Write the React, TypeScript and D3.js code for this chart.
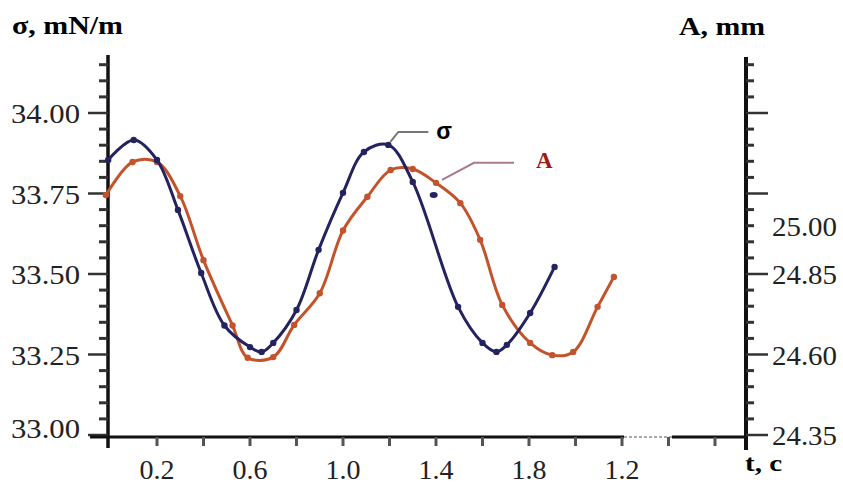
import React from "react";
import * as d3 from "d3";

// surface tension sigma, mN/m (left axis)
const sigmaTime = [-0.01, 0.1, 0.2, 0.29, 0.39, 0.49, 0.6, 0.65, 0.7, 0.8, 0.895, 1.0, 1.09, 1.195, 1.3, 1.495, 1.6, 1.66, 1.705, 1.805, 1.91];
const sigmaValues = [33.854, 33.916, 33.854, 33.699, 33.503, 33.34, 33.273, 33.258, 33.286, 33.388, 33.575, 33.752, 33.879, 33.901, 33.786, 33.398, 33.286, 33.258, 33.28, 33.379, 33.522];
// one stray sigma marker off the line
const sigmaStrayTime = [1.39];
const sigmaStrayValues = [33.745];

// amplitude A, mm (right axis)
const ampTime = [-0.02, 0.095, 0.2, 0.3, 0.4, 0.525, 0.59, 0.7, 0.79, 0.9, 1.0, 1.105, 1.205, 1.3, 1.4, 1.505, 1.59, 1.685, 1.805, 1.9, 1.99, 2.095, 2.165];
const ampValues = [25.095, 25.198, 25.198, 25.092, 24.893, 24.69, 24.59, 24.592, 24.692, 24.79, 24.985, 25.09, 25.173, 25.176, 25.133, 25.07, 24.956, 24.754, 24.636, 24.598, 24.608, 24.748, 24.841];

// tick labels
const leftTickValues = [33.0, 33.25, 33.5, 33.75, 34.0];
const rightTickValues = [24.35, 24.6, 24.85, 25.0];
const xLabelValues = [0.2, 0.6, 1.0, 1.4, 1.8, 2.2];
const xLabelTexts = ["0.2", "0.6", "1.0", "1.4", "1.8", "1.2"];

const W = 843;
const H = 486;
const BLUE = "#23235f";
const ORANGE = "#c4532b";

export default function App() {
  const x = d3.scaleLinear().domain([0, 2.2]).range([110.5, 622]);
  const y = d3.scaleLinear().domain([33, 34]).range([435, 113]);
  const yA = d3.scaleLinear().domain([24.35, 25.35]).range([435, 113]);

  const leftX = 108;
  const rightX = 746;
  const axisY = 437;

  const sigmaPts = sigmaTime.map((t, i) => [x(t), y(sigmaValues[i])] as [number, number]);
  const ampPts = ampTime.map((t, i) => [x(t), yA(ampValues[i])] as [number, number]);
  const line = d3.line().curve(d3.curveCatmullRom.alpha(0.5));

  const leftMinor = d3.range(0, 24).map((i) => ({ v: 33 + i * 0.05, major: i % 5 === 0 }));
  const rightMinor = d3.range(0, 24).map((i) => ({ v: 24.35 + i * 0.05, major: i % 5 === 0 }));
  const xTicks = d3.range(1, 14).map((i) => i * 0.2);

  // annotation anchors
  const sPeak = sigmaPts[13];
  const aAnchor = ampPts[14];

  const serif = "'Liberation Serif', 'Times New Roman', serif";
  const sans = "'Liberation Sans', Arial, sans-serif";

  return (
    <div style={{ position: "absolute", left: 0, top: 0 }}>
      <svg width={W} height={H} style={{ display: "block", background: "#fff" }}>
        {/* titles */}
        <text x={12} y={34} fontFamily={serif} fontWeight="bold" fontSize={25} textLength={111} lengthAdjust="spacingAndGlyphs">
          σ, mN/m
        </text>
        <text x={679} y={35} fontFamily={serif} fontWeight="bold" fontSize={25} textLength={86} lengthAdjust="spacingAndGlyphs">
          A, mm
        </text>
        <text x={745} y={471} fontFamily={serif} fontWeight="bold" fontSize={24} textLength={37} lengthAdjust="spacingAndGlyphs">
          t, c
        </text>

        {/* left axis */}
        <line x1={leftX} x2={leftX} y1={55} y2={448} stroke="#111" strokeWidth={3.5} />
        {leftMinor.map((d, i) => (
          <line key={"lt" + i} x1={d.major ? leftX - 20 : leftX - 9} x2={leftX} y1={y(d.v)} y2={y(d.v)} stroke="#333" strokeWidth={d.major ? 2.5 : 3} />
        ))}
        {leftTickValues.map((v) => (
          <text key={"ll" + v} x={80} y={y(v) + (v === 33 ? 3 : 10)} textAnchor="end" fontFamily={serif} fontSize={27} fill="#222" textLength={69} lengthAdjust="spacingAndGlyphs">
            {v.toFixed(2)}
          </text>
        ))}

        {/* right axis */}
        <line x1={rightX} x2={rightX} y1={57} y2={450} stroke="#111" strokeWidth={4} />
        {rightMinor.map((d, i) => (
          <line key={"rt" + i} x1={rightX} x2={d.major ? rightX + 22 : rightX + 8} y1={yA(d.v)} y2={yA(d.v)} stroke="#333" strokeWidth={d.major ? 2.5 : 3} />
        ))}
        {rightTickValues.map((v) => (
          <text key={"rl" + v} x={772} y={yA(v) + 10} fontFamily={serif} fontSize={27} fill="#222" textLength={65} lengthAdjust="spacingAndGlyphs">
            {v.toFixed(2)}
          </text>
        ))}

        {/* x axis */}
        <line x1={90} x2={624} y1={axisY} y2={axisY} stroke="#111" strokeWidth={3} />
        <line x1={624} x2={672} y1={axisY} y2={axisY} stroke="#aaa" strokeWidth={2} strokeDasharray="3 2" />
        <line x1={672} x2={rightX} y1={axisY} y2={axisY} stroke="#111" strokeWidth={3} />
        {xTicks.map((t) => (
          <line key={"xt" + t} x1={x(t)} x2={x(t)} y1={axisY} y2={axisY + 9} stroke="#555" strokeWidth={3} />
        ))}
        {xLabelValues.map((t, i) => (
          <text key={"xl" + t} x={x(t)} y={479} textAnchor="middle" fontFamily={serif} fontSize={28} fill="#222">
            {xLabelTexts[i]}
          </text>
        ))}

        {/* series */}
        <path d={line(ampPts) || ""} fill="none" stroke={ORANGE} strokeWidth={3} />
        {ampPts.map((p, i) => (
          <circle key={"am" + i} cx={p[0]} cy={p[1]} r={3.2} fill={ORANGE} />
        ))}
        <path d={line(sigmaPts) || ""} fill="none" stroke={BLUE} strokeWidth={3} />
        {sigmaPts.map((p, i) => (
          <circle key={"sm" + i} cx={p[0]} cy={p[1]} r={3.2} fill={BLUE} />
        ))}
        {sigmaStrayTime.map((t, i) => (
          <ellipse key={"ss" + i} cx={x(t)} cy={y(sigmaStrayValues[i])} rx={4} ry={3} fill={BLUE} />
        ))}

        {/* annotations */}
        <polyline
          points={`${sPeak[0] + 2},${sPeak[1] - 3} ${sPeak[0] + 10},${sPeak[1] - 13} ${sPeak[0] + 40},${sPeak[1] - 13}`}
          fill="none"
          stroke="#777"
          strokeWidth={2}
        />
        <text x={sPeak[0] + 48} y={sPeak[1] - 6} fontFamily={sans} fontWeight="bold" fontSize={23}>
          σ
        </text>
        <polyline
          points={`${aAnchor[0] + 6},${aAnchor[1] - 3} ${aAnchor[0] + 38},${aAnchor[1] - 20} ${aAnchor[0] + 78},${aAnchor[1] - 20}`}
          fill="none"
          stroke="#a87b8a"
          strokeWidth={2}
        />
        <text x={aAnchor[0] + 100} y={aAnchor[1] - 15} fontFamily={serif} fontWeight="bold" fontSize={23} fill="#a01818">
          A
        </text>
      </svg>
    </div>
  );
}
